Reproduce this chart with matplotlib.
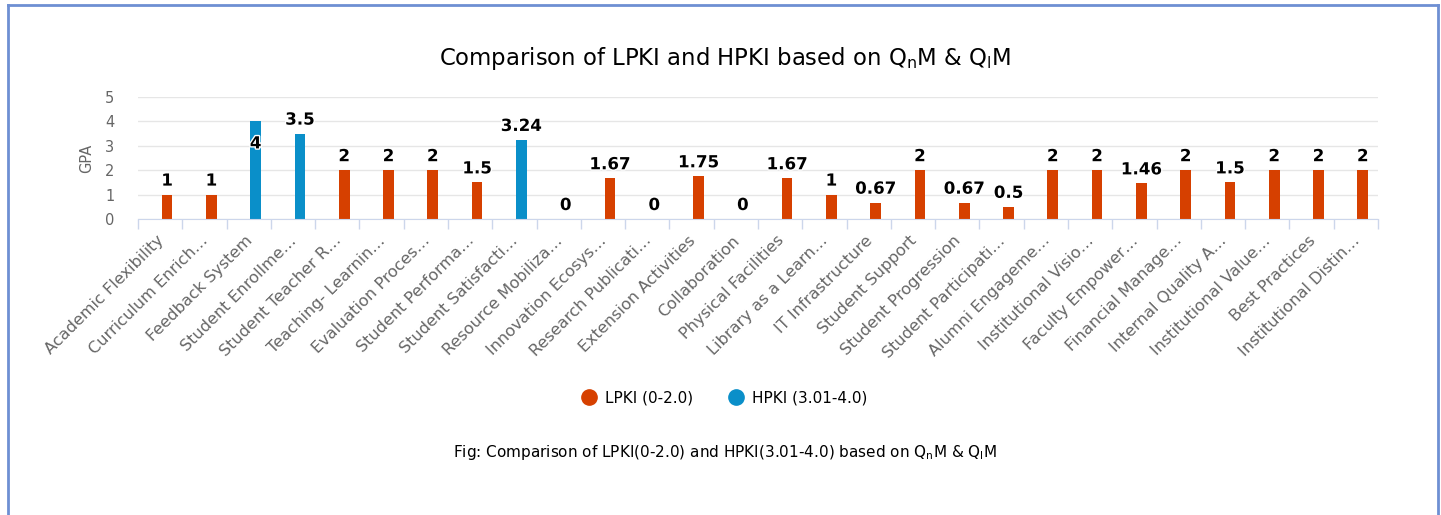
import matplotlib.pyplot as plt
import matplotlib.patheffects as pe
from matplotlib.lines import Line2D
from matplotlib.transforms import ScaledTranslation
import numpy as np

categories = [
    "Academic Flexibility", "Curriculum Enrich\u2026", "Feedback System",
    "Student Enrollme\u2026", "Student Teacher R\u2026", "Teaching- Learnin\u2026",
    "Evaluation Proces\u2026", "Student Performa\u2026", "Student Satisfacti\u2026",
    "Resource Mobiliza\u2026", "Innovation Ecosys\u2026", "Research Publicati\u2026",
    "Extension Activities", "Collaboration", "Physical Facilities",
    "Library as a Learn\u2026", "IT Infrastructure", "Student Support",
    "Student Progression", "Student Participati\u2026", "Alumni Engageme\u2026",
    "Institutional Visio\u2026", "Faculty Empower\u2026", "Financial Manage\u2026",
    "Internal Quality A\u2026", "Institutional Value\u2026", "Best Practices",
    "Institutional Distin\u2026",
]
values = [1, 1, 4, 3.5, 2, 2, 2, 1.5, 3.24, 0, 1.67, 0, 1.75, 0, 1.67,
          1, 0.67, 2, 0.67, 0.5, 2, 2, 1.46, 2, 1.5, 2, 2, 2]
# which series each bar belongs to
series = ["L", "L", "H", "H", "L", "L", "L", "L", "H", "L", "L", "L", "L", "L",
          "L", "L", "L", "L", "L", "L", "L", "L", "L", "L", "L", "L", "L", "L"]
labels_txt = ["1", "1", "4", "3.5", "2", "2", "2", "1.5", "3.24", "0", "1.67", "0",
              "1.75", "0", "1.67", "1", "0.67", "2", "0.67", "0.5", "2", "2",
              "1.46", "2", "1.5", "2", "2", "2"]

RED = "#D64000"
BLUE = "#0A8FC9"
colors = [RED if s == "L" else BLUE for s in series]

W, H = 1441, 515
fig = plt.figure(figsize=(W / 100, H / 100), dpi=100)
plt.rcParams['font.family'] = ['DejaVu Sans']

# outer frame (left, top, right)
bc = "#6E8FD3"
fig.add_artist(Line2D([8 / W, 8 / W], [0, 1 - 5 / H], color=bc, lw=2))
fig.add_artist(Line2D([8 / W, 1438 / W], [1 - 5 / H, 1 - 5 / H], color=bc, lw=2))
fig.add_artist(Line2D([1438 / W, 1438 / W], [0, 1 - 5 / H], color=bc, lw=2))

ax = fig.add_axes([138 / W, 1 - 219 / H, (1378 - 138) / W, (219 - 97) / H])
x = np.arange(len(categories))
off = 0.157
ax.bar(x + off, values, width=0.24, color=colors, zorder=3)

ax.set_xlim(-0.5, len(categories) - 0.5)
ax.set_ylim(0, 5)
ax.set_yticks(range(6))
ax.grid(axis='y', color='#e6e6e6', lw=1, zorder=0)
for s in ['top', 'right', 'left']:
    ax.spines[s].set_visible(False)
ax.spines['bottom'].set_color('#ccd6eb')
ax.spines['bottom'].set_zorder(4)
ax.tick_params(axis='y', length=0, labelsize=10.5, labelcolor='#666666', pad=17)
ax.set_ylabel("GPA", fontsize=10.5, color='#666666', labelpad=8)

ax.set_xticks(x)
ax.set_xticklabels(categories, rotation=45, ha='right', va='top',
                   rotation_mode='anchor', fontsize=11.6, color='#666666')
ax.tick_params(axis='x', which='major', length=0, pad=10)
ax.set_xticks(np.arange(-0.5, len(categories), 1), minor=True)
ax.tick_params(axis='x', which='minor', length=7.5, color='#ccd6eb', width=1)
shift = ScaledTranslation(-4 / 100, 0, fig.dpi_scale_trans)
for t in ax.get_xticklabels():
    t.set_transform(t.get_transform() + shift)

# data labels
for xi, v, lab in zip(x, values, labels_txt):
    dy = 14 if lab != "4" else -22
    ax.annotate(lab, (xi + off, v), xytext=(0, dy * 0.72), textcoords='offset points',
                ha='center', va='center', fontsize=12, fontweight='bold',
                color='black', zorder=5,
                path_effects=[pe.withStroke(linewidth=2, foreground='white')])

fig.text(725 / W, 1 - 58 / H,
         r"Comparison of LPKI and HPKI based on Q$_{\mathregular{n}}$M & Q$_{\mathregular{l}}$M",
         ha='center', va='center', fontsize=16.4, color='black')

# legend
leg_handles = [
    Line2D([], [], marker='o', ls='', color=RED, markersize=11),
    Line2D([], [], marker='o', ls='', color=BLUE, markersize=11),
]
fig.legend(leg_handles, ["LPKI (0-2.0)", "HPKI (3.01-4.0)"], loc='center',
           bbox_to_anchor=(724 / W, 1 - 398 / H), ncol=2, frameon=False,
           fontsize=11, handletextpad=0.45, columnspacing=2.2, handlelength=1.2)

fig.text(725 / W, 1 - 452 / H,
         r"Fig: Comparison of LPKI(0-2.0) and HPKI(3.01-4.0) based on Q$_{\mathregular{n}}$M & Q$_{\mathregular{l}}$M",
         ha='center', va='center', fontsize=11, color='black')

fig.savefig("out.png", dpi=100)
